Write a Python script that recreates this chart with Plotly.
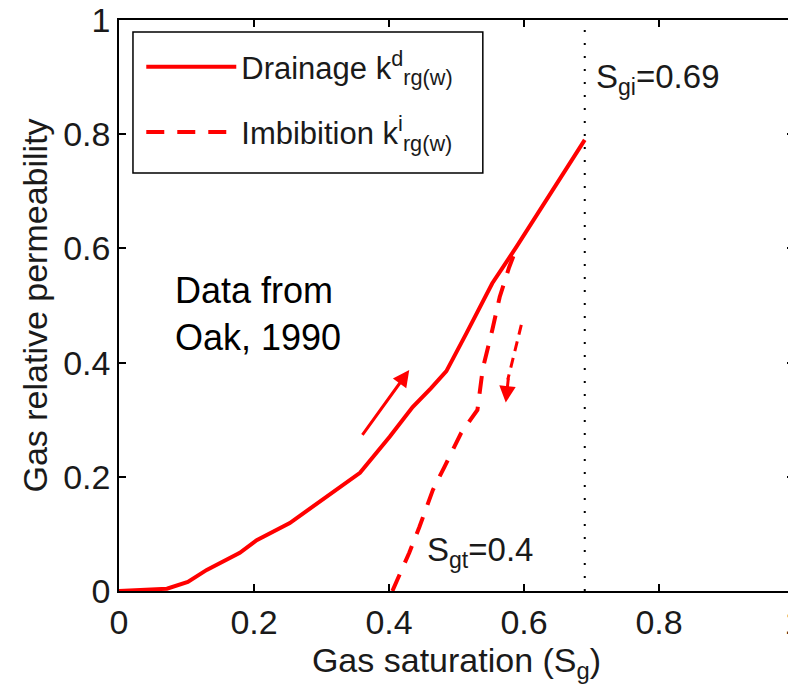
import plotly.graph_objects as go

# Drainage curve (Oak, 1990)
drain_sg = [0.0, 0.04, 0.071, 0.102, 0.13, 0.179, 0.204, 0.253, 0.308, 0.357, 0.401, 0.435, 0.462, 0.485, 0.515, 0.553, 0.589, 0.633, 0.69]
drain_kr = [0.0, 0.002, 0.004, 0.016, 0.037, 0.067, 0.089, 0.119, 0.165, 0.207, 0.27, 0.322, 0.355, 0.385, 0.452, 0.539, 0.603, 0.685, 0.79]

# Imbibition curve
imb_sg = [0.405, 0.43, 0.445, 0.465, 0.482, 0.507, 0.531, 0.539, 0.553, 0.564, 0.578, 0.588]
imb_kr = [0.0, 0.067, 0.112, 0.177, 0.217, 0.277, 0.317, 0.39, 0.457, 0.515, 0.567, 0.598]

sgi = 0.69
sgt = 0.4

x_ticks = [0, 0.2, 0.4, 0.6, 0.8, 1]
x_tick_labels = ["0", "0.2", "0.4", "0.6", "0.8", "1"]
y_ticks = [0, 0.2, 0.4, 0.6, 0.8, 1]
y_tick_labels = ["0", "0.2", "0.4", "0.6", "0.8", "1"]

# arrows: (tail_x, tail_y, head_x, head_y)
up_arrow = [0.359, 0.271, 0.430, 0.387]
down_arrow = [0.596, 0.466, 0.573, 0.33]

FONT = "Liberation Sans, Arial, sans-serif"
RED = "#FF0000"
TXT = "#1a1a1a"

fig = go.Figure()
fig.add_trace(go.Scatter(
    x=drain_sg, y=drain_kr, mode="lines",
    line=dict(color=RED, width=4),
    name="Drainage k<sup>d</sup><sub>rg(w)</sub>", legendgroup="d",
))
fig.add_trace(go.Scatter(
    x=imb_sg, y=imb_kr, mode="lines",
    line=dict(color=RED, width=4, dash="18px,13px"),
    name="Imbibition k<sup>i</sup><sub>rg(w)</sub>", legendgroup="i",
))
# vertical dotted line at Sgi
fig.add_trace(go.Scatter(
    x=[sgi, sgi], y=[0, 1], mode="lines",
    line=dict(color="black", width=2, dash="2px,11px"),
    showlegend=False, hoverinfo="skip",
))
# dashed shaft of the downward arrow
fig.add_trace(go.Scatter(
    x=[down_arrow[0], down_arrow[2] + 0.003], y=[down_arrow[1], down_arrow[3] + 0.04], mode="lines",
    line=dict(color=RED, width=3, dash="10px,7px"),
    showlegend=False, hoverinfo="skip",
))

# up arrow (solid)
fig.add_annotation(
    x=up_arrow[2], y=up_arrow[3], ax=up_arrow[0], ay=up_arrow[1],
    xref="x", yref="y", axref="x", ayref="y",
    showarrow=True, arrowhead=2, arrowsize=1.1, arrowwidth=3, arrowcolor=RED, text="",
)
# down arrow head
fig.add_annotation(
    x=down_arrow[2], y=down_arrow[3], ax=down_arrow[2] + 0.004, ay=down_arrow[3] + 0.045,
    xref="x", yref="y", axref="x", ayref="y",
    showarrow=True, arrowhead=2, arrowsize=1.1, arrowwidth=3, arrowcolor=RED, text="",
)

fig.add_annotation(
    x=0.08, y=0.485, xref="x", yref="y", xanchor="left", yanchor="middle",
    text="Data from<br>Oak, 1990", showarrow=False, align="left",
    font=dict(family=FONT, size=36, color="black"),
)
fig.add_annotation(
    x=0.703, y=0.896, xref="x", yref="y", xanchor="left", yanchor="middle",
    text="S<sub>gi</sub>=0.69", showarrow=False,
    font=dict(family=FONT, size=33, color=TXT),
)
fig.add_annotation(
    x=0.454, y=0.068, xref="x", yref="y", xanchor="left", yanchor="middle",
    text="S<sub>gt</sub>=0.4", showarrow=False,
    font=dict(family=FONT, size=33, color=TXT),
)

# legend box
fig.add_shape(
    type="rect", xref="paper", yref="paper",
    x0=0.0207, x1=0.539, y0=0.732, y1=0.979,
    line=dict(color="black", width=1.5), fillcolor="white", layer="above",
)

axis_common = dict(
    showline=True, linecolor="black", linewidth=1.5, mirror="ticks",
    ticks="inside", ticklen=7, tickcolor="black", tickwidth=1.5,
    showgrid=False, zeroline=False, automargin=False,
    ticklabeloverflow="allow",
    tickfont=dict(family=FONT, size=34, color=TXT),
)

fig.update_xaxes(
    range=[0, 1], tickvals=x_ticks, ticktext=x_tick_labels,
    title=dict(text="Gas saturation (S<sub>g</sub>)", font=dict(family=FONT, size=34, color=TXT), standoff=6),
    **axis_common,
)
fig.update_yaxes(
    range=[0, 1], tickvals=y_ticks, ticktext=y_tick_labels,
    title=dict(text="Gas relative permeability", font=dict(family=FONT, size=34, color=TXT), standoff=5),
    **axis_common,
)

fig.update_layout(
    width=788, height=683,
    margin=dict(l=111, r=2, t=12, b=100),
    paper_bgcolor="white", plot_bgcolor="white",
    legend=dict(
        x=0.033, y=0.965, xanchor="left", yanchor="top",
        borderwidth=0, bgcolor="rgba(0,0,0,0)",
        font=dict(family=FONT, size=31, color=TXT),
        itemwidth=90, traceorder="grouped", tracegroupgap=22,
    ),
    showlegend=True,
)

fig.write_html("out.html")
